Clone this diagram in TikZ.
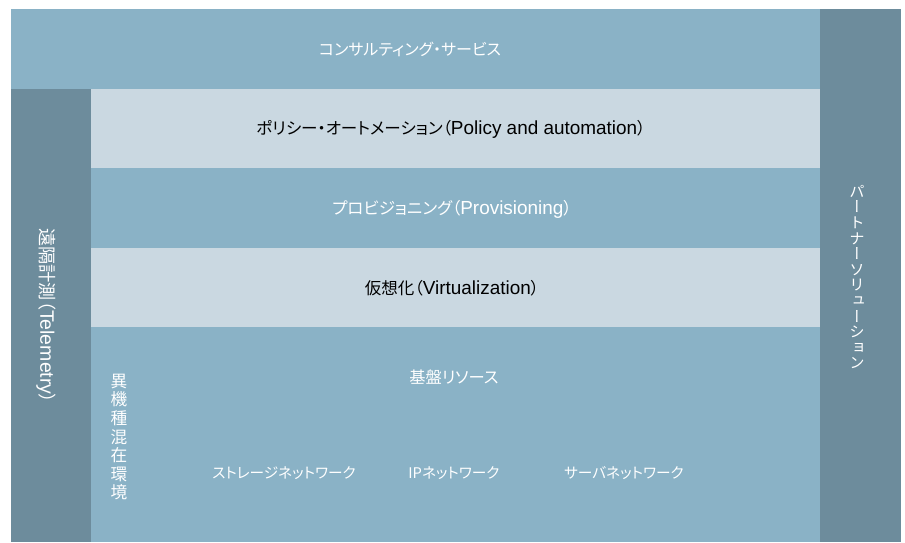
\documentclass[tikz,border=0pt]{standalone}
\usepackage{fontspec}
\setmainfont{Liberation Sans}
\newfontfamily\jp[RawFeature=+palt]{Noto Sans CJK JP}
\newfontfamily\jpv[RawFeature=+vert]{Noto Sans CJK JP}
\definecolor{midblue}{HTML}{8AB2C6}
\definecolor{lightblue}{HTML}{CAD8E1}
\definecolor{darkblue}{HTML}{6D8C9C}
\newcommand\jps{\jp\fontsize{12.4pt}{14pt}\selectfont}
\tikzset{
  lbl/.style={inner sep=0pt, align=center},
  wlbl/.style={lbl, text=white},
  blbl/.style={lbl, text=black},
}
\begin{document}
\begin{tikzpicture}[x=0.75pt,y=-0.75pt]
\useasboundingbox (0,0) rectangle (905,542);
% bands
\fill[midblue] (11,9) rectangle (820,89);
\fill[darkblue] (820,9) rectangle (901,542);
\fill[darkblue] (11,89) rectangle (91,542);
\fill[lightblue] (91,89) rectangle (820,168);
\fill[midblue] (91,168) rectangle (820,248);
\fill[lightblue] (91,248) rectangle (820,327);
\fill[midblue] (91,327) rectangle (820,542);
% texts
\node[wlbl, font=\jp\fontsize{12pt}{14pt}\selectfont] (consult) at (410,49) {コンサルティング・サービス};
\node[blbl, font=\fontsize{14.2pt}{16pt}\selectfont] (policy) at (451,129) {{\jps ポリシー・オートメーション（}Policy and automation{\jps ）}};
\node[wlbl, font=\fontsize{14.2pt}{16pt}\selectfont] (prov) at (452,209) {{\jps プロビジョニング（}Provisioning{\jps ）}};
\node[blbl, font=\fontsize{14.2pt}{16pt}\selectfont] (virt) at (452,288) {{\jps 仮想化（}Virtualization{\jps ）}};
\node[wlbl, font=\jp\fontsize{12.2pt}{14pt}\selectfont] (base) at (454,377) {基盤リソース};
\node[wlbl, font=\jp\fontsize{11pt}{12pt}\selectfont] (storage) at (284,473) {ストレージネットワーク};
\node[wlbl, font=\jp\fontsize{11pt}{12pt}\selectfont] (ipnet) at (454,473) {IPネットワーク};
\node[wlbl, font=\jp\fontsize{11pt}{12pt}\selectfont] (server) at (624,473) {サーバネットワーク};
\node[wlbl, font=\jp\fontsize{12.5pt}{13.95pt}\selectfont] (hetero) at (119,437) {異\\機\\種\\混\\在\\環\\境};
\node[wlbl, rotate=-90, font=\fontsize{14.6pt}{16pt}\selectfont] (tele) at (46,316) {{\jp\fontsize{13.6pt}{15pt}\selectfont 遠隔計測（}Telemetry{\jp\fontsize{13.6pt}{15pt}\selectfont ）}};
\node[wlbl, font=\jpv\fontsize{11.5pt}{11.7pt}\selectfont] (partner) at (857,277) {パ\\ー\\ト\\ナ\\ー\\ソ\\リ\\ュ\\ー\\シ\\ョ\\ン};
\end{tikzpicture}
\end{document}
